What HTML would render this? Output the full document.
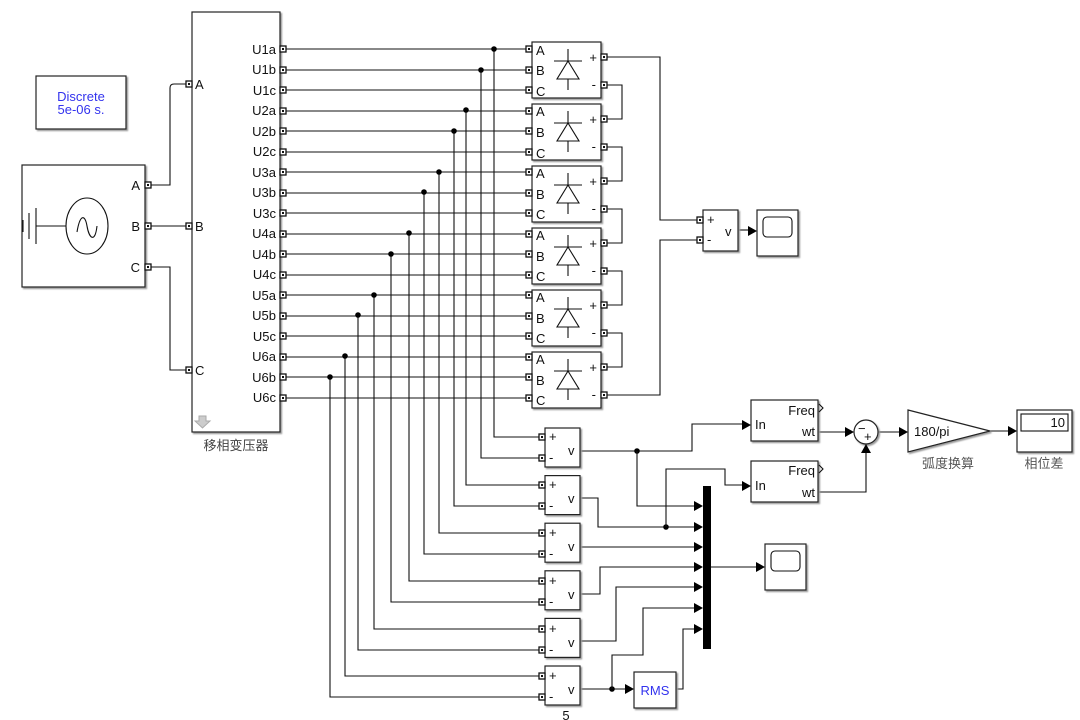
<!DOCTYPE html>
<html><head><meta charset="utf-8"><style>
html,body{margin:0;padding:0;background:#fff;}
svg{display:block;font-family:"Liberation Sans","Noto Sans CJK SC",sans-serif;}
.b{fill:#fff;stroke:#222;stroke-width:1.2;}
.l{fill:none;stroke:#111;stroke-width:1.1;}
text{font-size:13px;fill:#111;}
</style></head><body>
<svg id="s" width="1080" height="720" viewBox="0 0 1080 720">
<defs>
<filter id="sh" x="-10%" y="-10%" width="130%" height="130%"><feDropShadow dx="1.5" dy="1.5" stdDeviation="0.8" flood-color="#999"/></filter>
</defs>
<g id="lines"></g>
<g id="blocks"></g>
<rect class="b" x="192" y="12" width="88" height="420" filter="url(#sh)"/>
<text x="195" y="89">A</text><text x="195" y="231">B</text><text x="195" y="375">C</text>
<g text-anchor="end">
<text x="276" y="54">U1a</text><text x="276" y="74">U1b</text><text x="276" y="95">U1c</text>
<text x="276" y="115">U2a</text><text x="276" y="136">U2b</text><text x="276" y="156">U2c</text>
<text x="276" y="177">U3a</text><text x="276" y="197">U3b</text><text x="276" y="218">U3c</text>
<text x="276" y="238">U4a</text><text x="276" y="259">U4b</text><text x="276" y="279">U4c</text>
<text x="276" y="300">U5a</text><text x="276" y="320">U5b</text><text x="276" y="341">U5c</text>
<text x="276" y="361">U6a</text><text x="276" y="382">U6b</text><text x="276" y="402">U6c</text>
</g>
<path d="M199 416h7v5h4l-7.5 7l-7.5-7h4z" fill="#ccc" stroke="#aaa"/>
<text x="236" y="450" text-anchor="middle" style="fill:#444">移相变压器</text>
<rect class="b" x="36" y="76" width="90" height="53" filter="url(#sh)"/>
<text x="81" y="101" text-anchor="middle" style="fill:#3333ee">Discrete</text>
<text x="81" y="114" text-anchor="middle" style="fill:#3333ee">5e-06 s.</text>
<rect class="b" x="22" y="165" width="123" height="122" filter="url(#sh)"/>
<text x="140" y="190" text-anchor="end">A</text><text x="140" y="231" text-anchor="end">B</text><text x="140" y="272" text-anchor="end">C</text>
<path class="l" d="M23 220v12M29 213v26M36 208v36M36 226h30"/>
<ellipse class="l" cx="87" cy="226" rx="21" ry="28"/>
<path class="l" d="M77 232c3-18 8-18 10-6s8 18 10 0"/>
<g>
<text x="536" y="55">A</text><text x="536" y="75">B</text><text x="536" y="96">C</text>
<text x="536" y="116">A</text><text x="536" y="137">B</text><text x="536" y="158">C</text>
<text x="536" y="178">A</text><text x="536" y="199">B</text><text x="536" y="219">C</text>
<text x="536" y="240">A</text><text x="536" y="261">B</text><text x="536" y="281">C</text>
<text x="536" y="302">A</text><text x="536" y="323">B</text><text x="536" y="343">C</text>
<text x="536" y="364">A</text><text x="536" y="385">B</text><text x="536" y="405">C</text>
</g>
<g text-anchor="end">
<text x="597" y="62">+</text><text x="596" y="89">-</text>
<text x="597" y="124">+</text><text x="596" y="151">-</text>
<text x="597" y="186">+</text><text x="596" y="213">-</text>
<text x="597" y="248">+</text><text x="596" y="275">-</text>
<text x="597" y="310">+</text><text x="596" y="337">-</text>
<text x="597" y="372">+</text><text x="596" y="399">-</text>
</g>
<rect class="b" x="703" y="210" width="35" height="41" filter="url(#sh)"/>
<text x="707" y="224" font-size="10">+</text><text x="707" y="244" font-size="10">-</text><text x="725" y="236" font-size="12">v</text>
<rect class="b" x="757" y="210" width="41" height="46" filter="url(#sh)"/>
<rect class="l" x="763" y="217" width="29" height="20" rx="4"/>
<g>
<text x="549" y="441" font-size="10">+</text><text x="549" y="462" font-size="10">-</text><text x="568" y="455" font-size="12">v</text>
<text x="549" y="489" font-size="10">+</text><text x="549" y="510" font-size="10">-</text><text x="568" y="503" font-size="12">v</text>
<text x="549" y="537" font-size="10">+</text><text x="549" y="558" font-size="10">-</text><text x="568" y="551" font-size="12">v</text>
<text x="549" y="585" font-size="10">+</text><text x="549" y="606" font-size="10">-</text><text x="568" y="599" font-size="12">v</text>
<text x="549" y="633" font-size="10">+</text><text x="549" y="654" font-size="10">-</text><text x="568" y="647" font-size="12">v</text>
<text x="549" y="680" font-size="10">+</text><text x="549" y="701" font-size="10">-</text><text x="568" y="694" font-size="12">v</text>
</g>
<text x="566" y="720" text-anchor="middle">5</text>
<rect class="b" x="751" y="400" width="67" height="41" filter="url(#sh)"/>
<text x="755" y="429" font-size="12">In</text><text x="815" y="415" font-size="12" text-anchor="end">Freq</text><text x="815" y="436" font-size="12" text-anchor="end">wt</text>
<rect class="b" x="751" y="461" width="67" height="41" filter="url(#sh)"/>
<text x="755" y="490" font-size="12">In</text><text x="815" y="475" font-size="12" text-anchor="end">Freq</text><text x="815" y="497" font-size="12" text-anchor="end">wt</text>
<path class="l" d="M819 404l4 4l-4 4M819 465l4 4l-4 4" stroke-width="1.5"/>
<circle class="b" cx="866" cy="432" r="12" filter="url(#sh)"/>
<text x="858" y="433" font-size="10">−</text><text x="864" y="441" font-size="9">+</text>
<path class="b" d="M908 410L990 431L908 452Z" filter="url(#sh)"/>
<text x="914" y="436">180/pi</text>
<text x="948" y="468" text-anchor="middle" style="fill:#555">弧度换算</text>
<rect class="b" x="1017" y="410" width="55" height="42" filter="url(#sh)"/>
<rect class="l" x="1021" y="414" width="47" height="17"/>
<text x="1065" y="427" text-anchor="end">10</text>
<text x="1044" y="468" text-anchor="middle" style="fill:#555">相位差</text>
<rect x="703" y="486" width="8" height="163" fill="#000"/>
<rect class="b" x="765" y="544" width="41" height="46" filter="url(#sh)"/>
<rect class="l" x="771" y="551" width="29" height="20" rx="4"/>
<rect class="b" x="634" y="672" width="42" height="36" filter="url(#sh)"/>
<text x="655" y="695" text-anchor="middle" style="fill:#3333ee">RMS</text>
</svg>
<script>
const NS="http://www.w3.org/2000/svg";
const L=document.getElementById('lines'),B=document.getElementById('blocks'),S=document.getElementById('s');
function el(p,t,a){const e=document.createElementNS(NS,t);for(const k in a)e.setAttribute(k,a[k]);p.appendChild(e);return e;}
function path(d,c){el(L,'path',{d:d,class:c||'l'});}
function dot(x,y){el(L,'circle',{cx:x,cy:y,r:2.8,fill:'#000'});}
function port(x,y){el(S,'rect',{x:x-3,y:y-3,width:6,height:6,fill:'#fff',stroke:'#111','stroke-width':1.3});el(S,'rect',{x:x-1,y:y-1,width:2,height:2,fill:'#111'});}
function arrow(x,y){el(S,'path',{d:`M${x} ${y}l-9 -5v10z`,fill:'#000'});}
const U=[];for(let i=0;i<18;i++)U.push(Math.round(49+i*20.5));
for(let i=0;i<18;i++){path(`M283 ${U[i]}H529`);}
for(let k=0;k<6;k++){const t=42+62*k;
 el(B,'rect',{class:'b',x:532,y:t,width:69,height:56,filter:'url(#sh)'});
 const cx=568,cy=t+28;
 el(B,'path',{class:'l',d:`M${cx} ${t+7}v12M${cx-14} ${cy-9}h28M${cx} ${cy-9}l-11 18h22z M${cx} ${cy+9}v11`});
}
const tap=[[49,494],[70,481],[110,466],[131,454],[172,439],[192,424],[233,409],[254,391],[295,374],[315,358],[356,345],[377,330]];
const vp=[437,458,485,506,533,554,581,602,629,650,676,697];
for(let j=0;j<12;j++){const [y,x]=tap[j];path(`M${x} ${y}V${vp[j]}H542`);dot(x,y);}
for(let k=0;k<5;k++){const t=42+62*k;path(`M604 ${t+43}H622V${t+77}H604`);}
path('M604 57H660V220H700');path('M604 395H660V240H700');
path('M738 230H748');arrow(757,231);
for(let k=0;k<6;k++){const t=428+47.6*k;el(B,'rect',{class:'b',x:545,y:t,width:35,height:39,filter:'url(#sh)'});}
path('M580 451H692V424H742');arrow(751,425);dot(637,451);path('M637 451V506H694');arrow(703,506);
path('M580 498H598V527H694');arrow(703,527);dot(666,527);path('M666 527V469H725V485H742');arrow(751,486);
path('M580 547H694');arrow(703,547);
path('M580 594H600V567H694');arrow(703,567);
path('M580 641H616V587H694');arrow(703,587);
path('M580 689H625');arrow(634,689);dot(612,689);path('M612 689V655H643V608H694');arrow(703,608);
path('M676 689H683V629H694');arrow(703,629);
path('M711 567H756');arrow(765,567);
path('M818 432H845');arrow(854,432);path('M818 492H866V453');el(S,'path',{d:'M866 444l-5 9h10z',fill:'#000'});
path('M878 432H899');arrow(908,432);path('M990 431H1008');arrow(1017,431);
path('M148 185H170V88Q170 84 174 84H187');path('M148 226H187');path('M148 267H170V370H187');
[[148,185],[148,226],[148,267],[189,84],[189,226],[189,370]].forEach(p=>port(p[0],p[1]));
U.forEach(y=>{port(283,y);port(529,y);});
for(let k=0;k<6;k++){const t=42+62*k;port(604,t+15);port(604,t+43);}
port(700,220);port(700,240);
vp.forEach(y=>port(542,y));
</script>
</body></html>
